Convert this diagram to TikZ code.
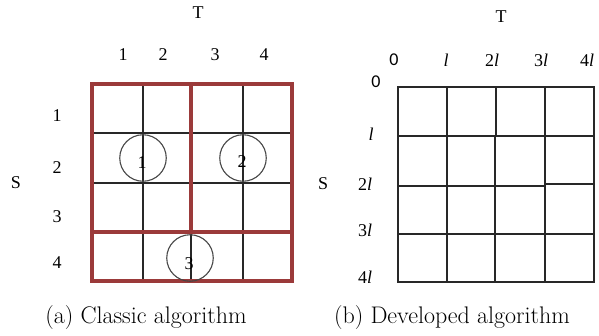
\documentclass[tikz,border=0pt]{standalone}
\usepackage{fontspec}
\setmainfont{Latin Modern Roman}
\newfontfamily\lab{Liberation Serif}
\newfontfamily\labsans{Carlito}
\definecolor{gridred}{RGB}{155,58,58}
\definecolor{gridgray}{RGB}{40,40,40}
\definecolor{circgray}{RGB}{70,70,70}
\begin{document}
\begin{tikzpicture}[x=1pt,y=-1pt,
  lbl/.style={inner sep=0pt,anchor=center,font=\lab\fontsize{18}{21}\selectfont},
  captext/.style={inner sep=0pt,anchor=center,font=\fontsize{24}{28}\selectfont},
  thin grid/.style={draw=gridgray,line width=1.2pt},
  red box/.style={draw=gridred,line width=3.6pt},
  ring/.style={circle,draw=circgray,line width=1.1pt,minimum size=46.5pt,inner sep=0pt}]
\useasboundingbox (0,0) rectangle (599,335);
% ---------- (a) ----------
% thin lines
\draw[thin grid] (143,84) -- (143,281);
\draw[thin grid] (243,84) -- (243,281);
\draw[thin grid] (191,232) -- (191,281);
\draw[thin grid] (92,133) -- (292,133);
\draw[thin grid] (92,183) -- (292,183);
% red boxes
\draw[red box] (92,84) rectangle (292,281);
\draw[red box] (191,84) -- (191,232);
\draw[red box] (92,232) -- (292,232);
% circles
\node[ring] (c1) at (143,158) {};
\node[ring] (c2) at (243,158) {};
\node[ring] (c3) at (190,258) {};
\node[lbl] (n1) at (142,163) {1};
\node[lbl] (n2) at (242,162) {2};
\node[lbl] (n3) at (189,264) {3};
% labels
\node[lbl] (Ta) at (198,13) {T};
\node[lbl] (Sa) at (16,183) {S};
\node[lbl] (ca1) at (123,55) {1};
\node[lbl] (ca2) at (163,55) {2};
\node[lbl] (ca3) at (215,55) {3};
\node[lbl] (ca4) at (264,55) {4};
\node[lbl] (ra1) at (57,116) {1};
\node[lbl] (ra2) at (57,168) {2};
\node[lbl] (ra3) at (57,217) {3};
\node[lbl] (ra4) at (57,263) {4};
\node[captext] (capa) at (146,318) {(a) Classic algorithm};
% ---------- (b) ----------
\draw[thin grid] (398,87) rectangle (594,282);
\draw[thin grid] (447,87) -- (447,282);
\draw[thin grid] (496,87) -- (496,136);
\draw[thin grid] (495,136) -- (495,282);
\draw[thin grid] (545,87) -- (545,282);
\draw[thin grid] (398,136) -- (594,136);
\draw[thin grid] (398,186) -- (545,186);
\draw[thin grid] (545,184) -- (594,184);
\draw[thin grid] (398,234) -- (594,234);
\node[lbl] (Tb) at (501,17) {T};
\node[lbl] (Sb) at (323,184) {S};
\node[lbl,font=\labsans\fontsize{18}{21}\selectfont] (cb0) at (394,60) {0};
\node[lbl] (cb1) at (446,60) {\itshape l};
\node[lbl] (cb2) at (492,60) {2\itshape l};
\node[lbl] (cb3) at (541,60) {3\itshape l};
\node[lbl] (cb4) at (587,60) {4\itshape l};
\node[lbl,font=\labsans\fontsize{18}{21}\selectfont] (rb0) at (376,82) {0};
\node[lbl] (rb1) at (371,134) {\itshape l};
\node[lbl] (rb2) at (365,184) {2\itshape l};
\node[lbl] (rb3) at (365,230) {3\itshape l};
\node[lbl] (rb4) at (365,277) {4\itshape l};
\node[captext] (capb) at (452,318) {(b) Developed algorithm};
\end{tikzpicture}
\end{document}
